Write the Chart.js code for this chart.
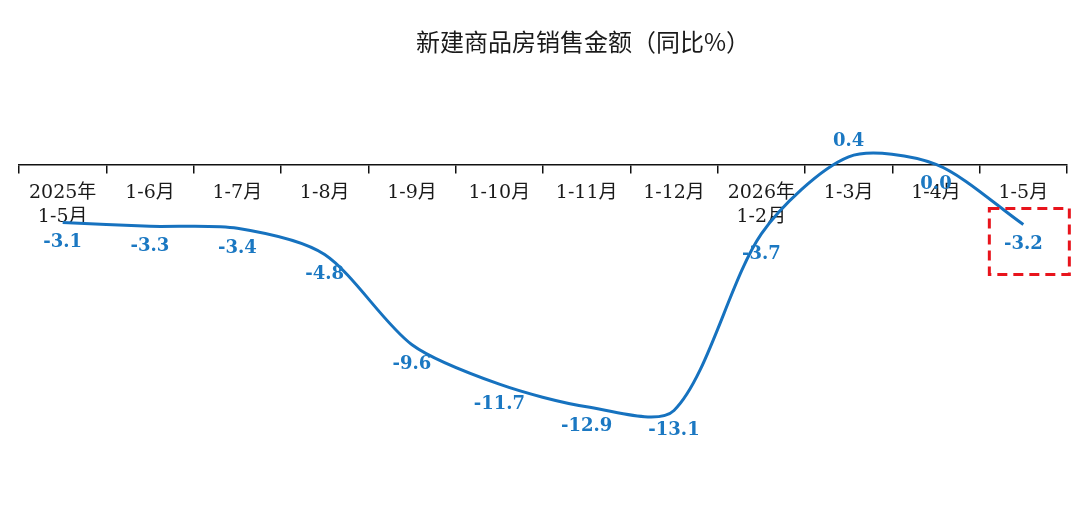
<!DOCTYPE html>
<html><head><meta charset="utf-8">
<script src="https://cdn.jsdelivr.net/npm/chart.js@4.4.1/dist/chart.umd.min.js"></script>
<style>
html,body{margin:0;padding:0;background:#fff;}
#wrap{position:relative;width:1080px;height:517px;}
#title{position:absolute;left:583px;top:27px;transform:translateX(-50%);font-family:"Noto Sans CJK SC";font-size:24px;color:#1a1a1a;white-space:nowrap;line-height:27px;}
</style></head>
<body><div id="wrap"><canvas id="c" width="1080" height="517"></canvas><div id="title"></div></div>
<script>
const titleText = '新建商品房销售金额（同比%）';
const categories = [['2025年','1-5月'],'1-6月','1-7月','1-8月','1-9月','1-10月','1-11月','1-12月',['2026年','1-2月'],'1-3月','1-4月','1-5月'];
const salesYoY = [-3.1,-3.3,-3.4,-4.8,-9.6,-11.7,-12.9,-13.1,-3.7,0.4,0.0,-3.2];
const highlightIndex = 11;

document.getElementById('title').textContent = titleText;

const labelPlugin = {
  id: 'valueLabels',
  afterDatasetsDraw(chart) {
    const ctx = chart.ctx;
    const meta = chart.getDatasetMeta(0);
    ctx.save();
    ctx.font = 'bold 18px "DejaVu Serif"';
    ctx.fillStyle = '#1b78c2';
    ctx.textAlign = 'center';
    ctx.textBaseline = 'middle';
    meta.data.forEach((pt, i) => {
      const v = salesYoY[i];
      const y = v > 0 ? pt.y - 16 : pt.y + 20;
      ctx.fillText(v.toFixed(1), pt.x, y);
    });
    const last = meta.data[highlightIndex];
    ctx.strokeStyle = '#e8141c';
    ctx.lineWidth = 3;
    ctx.setLineDash([10, 6]);
    ctx.strokeRect(last.x - 34, last.y - 16, 80, 66);
    ctx.restore();
  }
};

new Chart(document.getElementById('c'), {
  type: 'line',
  data: {
    labels: categories,
    datasets: [{
      data: salesYoY,
      borderColor: '#1672bf',
      borderWidth: 3,
      pointRadius: 0,
      tension: 0.28,
      fill: false
    }]
  },
  options: {
    responsive: false,
    animation: false,
    devicePixelRatio: 1,
    layout: { padding: { left: 19, right: 13, top: 108, bottom: 52 } },
    plugins: { legend: { display: false }, tooltip: { enabled: false }, title: { display: false } },
    scales: {
      x: {
        type: 'category',
        position: { y: 0 },
        offset: true,
        grid: { offset: true, drawOnChartArea: false, drawTicks: true, tickLength: 8, color: '#111', lineWidth: 1.5 },
        border: { display: true, color: '#111', width: 1.5 },
        ticks: { color: '#1a1a1a', font: { family: '"DejaVu Serif","Noto Sans CJK SC"', size: 19, lineHeight: 1.3 }, padding: 8, maxRotation: 0, autoSkip: false }
      },
      y: { display: false, min: -16, max: 3 }
    }
  },
  plugins: [labelPlugin]
});
</script>
</body></html>
